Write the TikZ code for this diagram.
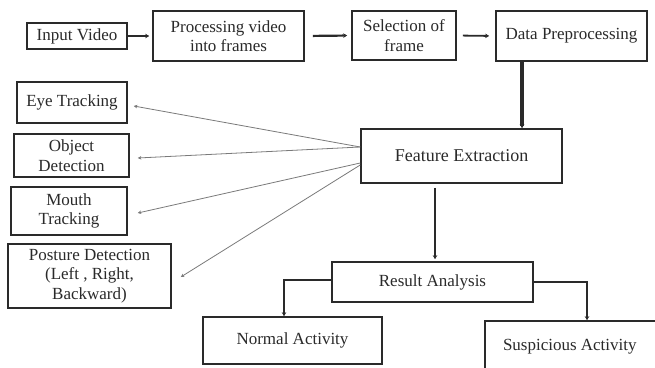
\documentclass[tikz,border=0pt]{standalone}
\usepackage{fontspec}
\setmainfont{Liberation Serif}
\usetikzlibrary{arrows.meta}
\definecolor{ink}{HTML}{2A2A2A}
\definecolor{fanc}{HTML}{7A7A7A}
\tikzset{
  box/.style={draw=ink, line width=1.6pt, text=ink, inner sep=0pt, align=center,
              font=\fontsize{17}{19.5}\selectfont, anchor=center},
  flow/.style={draw=ink, line width=1.8pt, -{Stealth[length=4pt,width=4.5pt]}},
  fan/.style={draw=fanc, line width=0.8pt, -{Stealth[length=3.5pt,width=3.5pt,fill=ink]}},
}
\begin{document}
\begin{tikzpicture}[x=1pt,y=-1pt]
\useasboundingbox (0,0) rectangle (655,367);
\clip (0,0) rectangle (655,367);
\fill[white] (0,0) rectangle (655,367);
% top row
\node[box, minimum width=100pt, minimum height=26pt] (in) at (77,36) {Input Video};
\node[box, minimum width=151pt, minimum height=50pt] (proc) at (228.5,36) {Processing video\\into frames};
\node[box, minimum width=104pt, minimum height=49pt] (sel) at (404,35.5) {Selection of\\frame};
\node[box, minimum width=151pt, minimum height=50pt] (dp) at (571.5,36) {Data Preprocessing};
% middle
\node[box, minimum width=201pt, minimum height=54pt, font=\fontsize{18}{20}\selectfont] (fe) at (461.5,156) {Feature Extraction};
% left column
\node[box, minimum width=110pt, minimum height=41pt] (eye) at (72,102.5) {Eye Tracking};
\node[box, minimum width=115pt, minimum height=43pt] (obj) at (71.5,155.5) {Object\\Detection};
\node[box, minimum width=116pt, minimum height=48pt] (mouth) at (69,211) {Mouth\\Tracking};
\node[box, minimum width=163pt, minimum height=64pt] (post) at (89.5,276) {Posture Detection\\(Left , Right,\\Backward)};
% bottom
\node[box, minimum width=201pt, minimum height=40pt] (ra) at (432.5,282) {Result Analysis};
\node[box, minimum width=179pt, minimum height=47pt] (na) at (292.5,340.5) {Normal Activity};
\node[box, minimum width=195pt, minimum height=51pt] (sa) at (582.5,346.5) {\makebox[195pt][l]{\hspace{18pt}Suspicious Activity}};
% top arrows
\draw[flow, shorten >=3pt] (in.east) -- (proc.west);
\draw[flow, line width=2.2pt, shorten <=8pt, shorten >=4pt] (proc.east) -- (sel.west);
\draw[flow, shorten <=6pt, shorten >=6pt] (sel.east) -- (dp.west);
\draw[flow, line width=3.6pt] ([xshift=-49.5pt]dp.south) -- ([xshift=-49.5pt]dp.south |- fe.north);
\draw[flow, line width=2.6pt, shorten <=4pt, shorten >=2pt] ([xshift=-26.5pt]fe.south) -- ([xshift=-26.5pt]fe.south |- ra.north);
% branches
\draw[flow, line width=1.8pt] ([yshift=2pt]ra.west) -| ([xshift=-8.5pt]na.north);
\draw[flow, line width=1.8pt] (ra.east) -| ([xshift=4.5pt]sa.north);
% fan-out
\draw[fan] ([yshift=9pt]fe.west) -- ([xshift=6pt,yshift=-3.5pt]eye.east);
\draw[fan] ([yshift=9pt]fe.west) -- ([xshift=8pt,yshift=-2.5pt]obj.east);
\draw[fan] ([yshift=-7pt]fe.west) -- ([xshift=10pt,yshift=-2pt]mouth.east);
\draw[fan] ([yshift=-9pt]fe.west) -- ([xshift=9pt,yshift=-1pt]post.east);
\end{tikzpicture}
\end{document}
